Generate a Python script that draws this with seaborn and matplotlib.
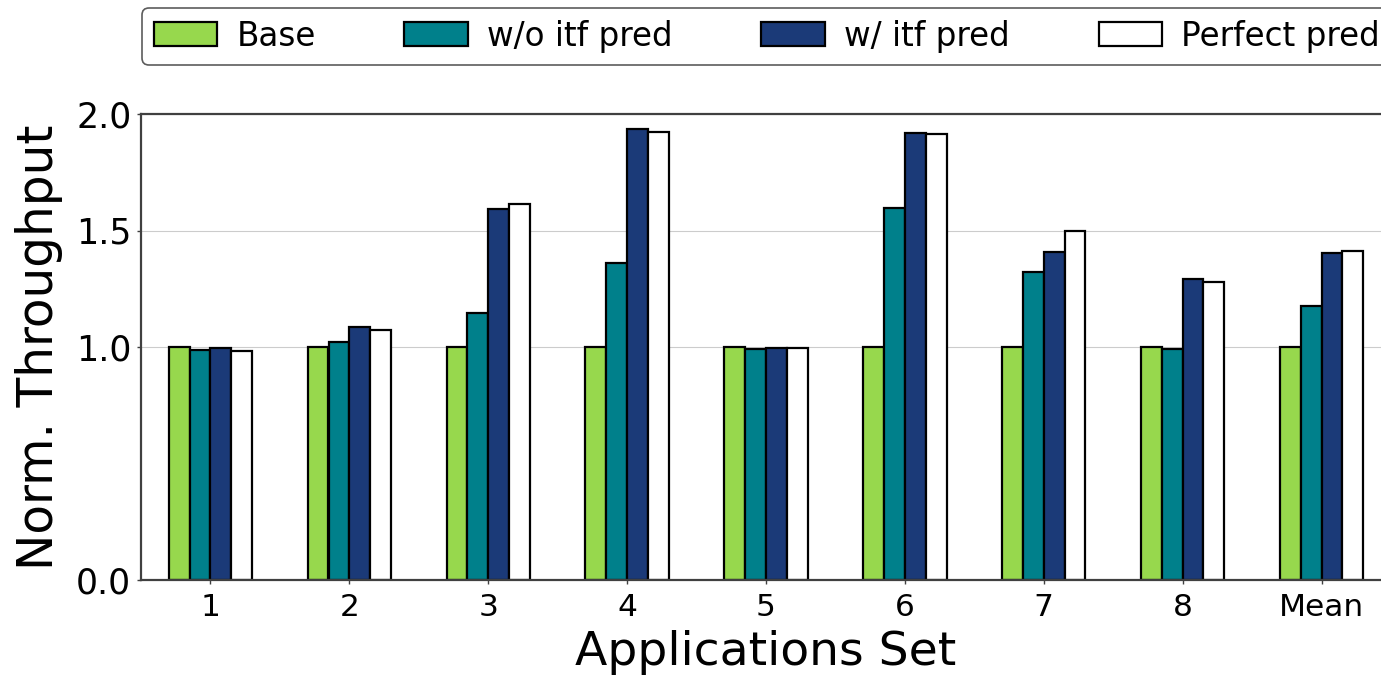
import numpy as np
import pandas as pd
import seaborn as sns
import matplotlib
matplotlib.use("Agg")
import matplotlib.pyplot as plt

# ---------------- Data ----------------
app_sets = ["1", "2", "3", "4", "5", "6", "7", "8", "Mean"]
base = [1.0, 1.0, 1.0, 1.0, 1.0, 1.0, 1.0, 1.0, 1.0]
wo_itf_pred = [0.987, 1.023, 1.144, 1.362, 0.990, 1.598, 1.320, 0.993, 1.177]
w_itf_pred = [0.994, 1.087, 1.591, 1.934, 0.997, 1.917, 1.406, 1.290, 1.402]
perfect_pred = [0.984, 1.073, 1.614, 1.921, 0.997, 1.914, 1.498, 1.280, 1.412]

series_names = ["Base", "w/o itf pred", "w/ itf pred", "Perfect pred"]
colors = ["#97D84D", "#00808B", "#1B3A78", "#FFFFFF"]

df = pd.DataFrame({
    "set": app_sets * 4,
    "value": base + wo_itf_pred + w_itf_pred + perfect_pred,
    "series": np.repeat(series_names, len(app_sets)),
})

# ---------------- Plot ----------------
sns.set_style("whitegrid", {"axes.edgecolor": "0.25", "grid.color": "0.8",
                            "text.color": "black", "axes.labelcolor": "black",
                            "xtick.color": "black", "ytick.color": "black"})
fig = plt.figure(figsize=(13.81, 6.79), dpi=100)
ax = fig.add_axes([141 / 1381, 1 - 580 / 679, 1250 / 1381, 466 / 679])

sns.barplot(data=df, x="set", y="value", hue="series", palette=colors,
            saturation=1, width=0.6, edgecolor="black", linewidth=1.6, ax=ax)

ax.set_xlim(-0.5, 8.5)
ax.set_ylim(0, 2.0)
ax.set_yticks([0.0, 1.0, 1.5, 2.0])
ax.set_yticklabels(["0.0", "1.0", "1.5", "2.0"], fontsize=25)
ax.tick_params(axis="x", labelsize=22.5, length=3, width=1, color="0.25",
               bottom=True, pad=6)
ax.tick_params(axis="y", length=3, width=1, color="0.25", left=True, pad=4)
ax.grid(axis="x", visible=False)
ax.set_axisbelow(True)
for side in ["top", "left", "bottom", "right"]:
    ax.spines[side].set_linewidth(1.6)

ax.set_xlabel("Applications Set", fontsize=34, labelpad=6)
ax.set_ylabel("Norm. Throughput", fontsize=35, labelpad=9)

ax.get_legend().remove()
handles, labels = ax.get_legend_handles_labels()
leg = fig.legend(handles, labels, loc="upper left", ncol=4,
                 bbox_to_anchor=(142 / 1381, 1 - 8 / 679), borderaxespad=0,
                 fontsize=23.5, frameon=True, fancybox=True,
                 handlelength=1.95, handleheight=0.75, handletextpad=0.58,
                 columnspacing=2.72, borderpad=0.36)
leg.get_frame().set_edgecolor("0.2")
leg.get_frame().set_linewidth(1.2)

fig.savefig("out.png", dpi=100)
